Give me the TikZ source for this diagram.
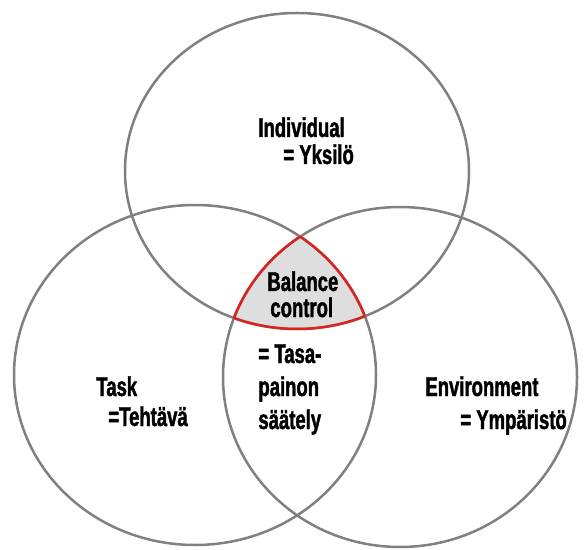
\documentclass[tikz,border=0pt]{standalone}
\usepackage{fontspec}
\newfontfamily\vennfont{Liberation Sans}[FakeStretch = 0.68, FakeBold = 1.5]
\definecolor{ringgray}{RGB}{128, 128, 128}
\definecolor{corered}{RGB}{218, 34, 30}
\definecolor{corefill}{RGB}{222, 222, 222}
\tikzset {
    ring/.style = {draw = ringgray, line width = 1.25pt},
    core/.style = {draw = corered, line width = 1.25pt},
    word/.style = {
        inner sep = 0pt,
        anchor = base west,
        font = \vennfont\bfseries\fontsize{13.6}{16}\selectfont
    }
}
% the three rings, in pixel units
\newcommand{\indring}{(297, 171) ellipse [x radius = 172, y radius = 158]}
\newcommand{\taskring}{(195, 375) ellipse [x radius = 181, y radius = 170]}
\newcommand{\envring}{(400, 377) ellipse [x radius = 177, y radius = 170]}

\begin{document}
\begin{tikzpicture}[x = 0.5pt, y = -0.5pt]
    \useasboundingbox (0, 0) rectangle (588, 550);
    %
    \begin{scope}
        \clip \taskring;
        \clip \envring;
        \fill [corefill] \indring;
    \end{scope}
    \draw [ring] \indring;
    \draw [ring] \taskring;
    \draw [ring] \envring;
    % red edge of the common part
    \begin{scope}
        \clip \taskring;
        \clip \envring;
        \draw [core] \indring;
    \end{scope}
    \begin{scope}
        \clip \indring;
        \clip \envring;
        \draw [core] \taskring;
    \end{scope}
    \begin{scope}
        \clip \indring;
        \clip \taskring;
        \draw [core] \envring;
    \end{scope}
    %
    \node (ind) [word] at (258, 137) {Individual};
    \node (indfi) [word] at (283, 164) {= Yksilö};
    \node (bal) [word] at (267, 291) {Balance};
    \node (ctrl) [word] at (270, 317) {control};
    \node (balfi1) [word] at (258, 363) {= Tasa-};
    \node (balfi2) [word] at (258, 396) {painon};
    \node (balfi3) [word] at (258, 429) {säätely};
    \node (task) [word] at (96, 396) {Task};
    \node (taskfi) [word] at (108, 426) {=Tehtävä};
    \node (env) [word] at (425, 396) {Environment};
    \node (envfi) [word] at (460, 429) {= Ympäristö};
\end{tikzpicture}
\end{document}
